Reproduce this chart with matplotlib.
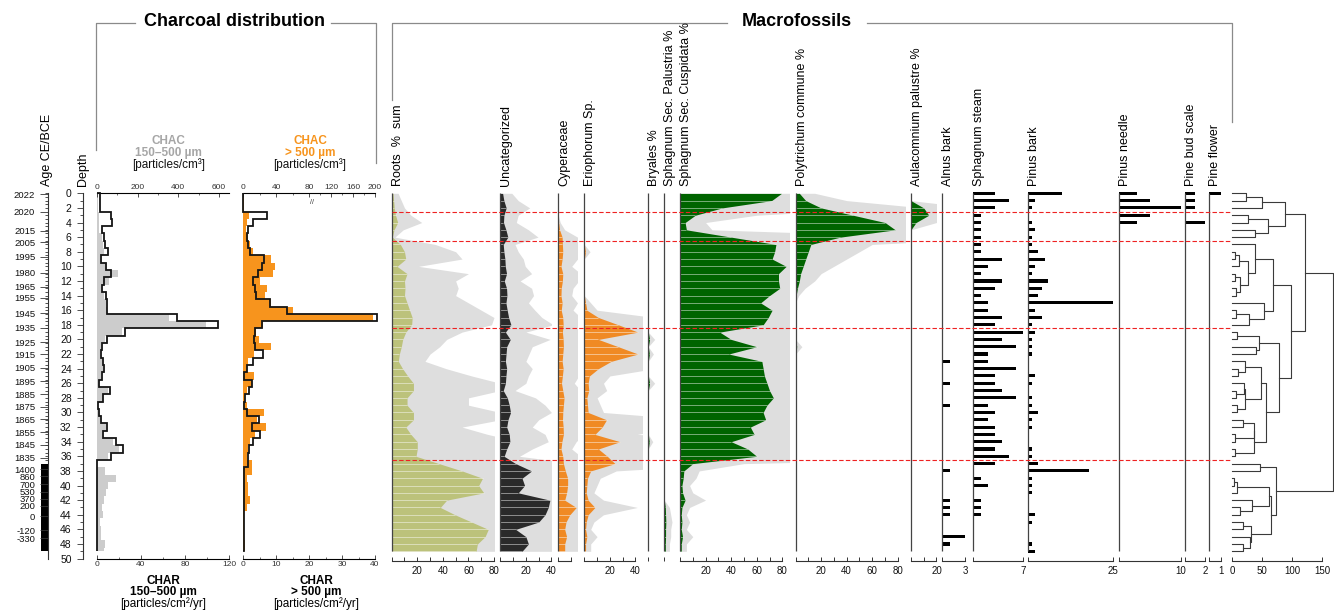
import matplotlib.pyplot as plt
import numpy as np
from matplotlib.lines import Line2D
from matplotlib.transforms import blended_transform_factory

W, H = 1334, 610
Y_TOP, Y_BOT = 193.3, 558.6  # pixel rows of depth 0 cm and 50 cm

plt.rcParams["font.family"] = ["Liberation Sans", "DejaVu Sans"]
plt.rcParams["axes.linewidth"] = 0.8

# ---- core chronology -------------------------------------------------------
depth_cm = np.arange(50)
zone_bounds = [2.5, 6.5, 18.5, 36.5]
age_labels = ["2022", "2020", "2015", "2005", "1995", "1980", "1965", "1955", "1945",
              "1935", "1925", "1915", "1905", "1895", "1885", "1875", "1865", "1855",
              "1845", "1835", "1400", "860", "700", "530", "370", "200", "0", "-120", "-330"]
age_depths = [0.1, 2.5, 5.1, 6.7, 8.7, 10.9, 12.8, 14.3, 16.4, 18.4, 20.4, 22.0, 23.9,
              25.7, 27.5, 29.2, 30.9, 32.7, 34.4, 36.2, 37.8, 38.75, 39.8, 40.85, 41.8,
              42.75, 44.2, 46.1, 47.2]
undated_cm = (37.0, 49.0)

# ---- charcoal --------------------------------------------------------------
chac_150 = [8, 8, 8, 10, 12, 13, 24, 29, 36, 16, 49, 106, 62, 20, 36, 46, 49, 356, 538, 122,
            41, 20, 16, 24, 29, 20, 10, 57, 29, 3, 10, 16, 46, 24, 82, 111, 57, 0, 41, 95,
            57, 46, 36, 24, 29, 16, 20, 20, 41, 36]
char_150 = [3, 3, 3, 12.7, 14, 4.5, 6.6, 7.5, 10, 3.6, 8.4, 13, 6.6, 4.5, 8.4, 9, 9.6, 73, 110,
            25.6, 9, 4.5, 3.6, 5.4, 6.6, 4.5, 2.4, 12, 6, 1, 2.4, 3.6, 9.6, 6, 17.5, 23.5, 12.7,
            0.6, 0.3, 0.3, 0.3, 0.3, 0.3, 0.3, 0.3, 0.3, 0.3, 0.3, 0.3, 0.3]
chac_500 = [1, 1, 1, 7, 4, 3.3, 6, 8, 11.4, 33.5, 38.8, 36, 20.4, 29.4, 26.5, 33.5, 60, 197,
            24.5, 15.5, 19.6, 33.5, 13, 6, 4, 13, 10, 4, 2, 4, 25, 17, 27.8, 14.3, 8, 6, 4, 10,
            10, 4, 6, 6, 8, 4, 1, 1, 1, 1, 2, 2]
char_500 = [0, 0, 0, 7.3, 3, 1.5, 1, 1.5, 2, 6.3, 5.6, 4.6, 2.8, 3.5, 4, 8.1, 13.2, 40.5, 5.6,
            3.5, 3.2, 3.5, 6.1, 2.8, 1, 0.3, 2.5, 1.8, 0.5, 0.3, 1, 4.9, 2.5, 5.1, 3, 1.8, 1.5,
            1.5, 0.1, 0.1, 0.1, 0.1, 0.1, 0.1, 0.1, 0.1, 0.1, 0.1, 0.1, 0.1]

# ---- macrofossils (%) ------------------------------------------------------
roots = [1, 1.5, 2, 3, 4.7, 1.8, 0.5, 6.8, 10, 11, 4.2, 12, 10, 10.4, 10, 12, 14, 16, 15.6, 11,
         8.6, 7.5, 6, 5.2, 8.5, 12.5, 17, 17, 12, 12, 17, 17, 11, 15, 20, 20, 19, 37, 55, 71,
         68, 72, 43, 38, 49.5, 62.5, 75.5, 73, 67, 66]
uncategorized = [1.8, 2.8, 4.6, 2.8, 2.5, 4.4, 5.9, 2.3, 2.8, 3.6, 3.9, 4.9, 3.1, 4.9, 5.2, 4.4,
                 5.4, 6.5, 8.3, 4, 7.8, 5, 4.5, 4, 5, 4.4, 4, 2.3, 5.5, 7, 8, 6, 5, 7, 7.5, 5,
                 3, 12, 24.5, 17, 19, 14, 38.8, 37.5, 35, 30, 12, 20, 22, 17]
cyperaceae = [0, 0, 0, 0, 0.3, 1, 3, 3.2, 3.5, 3, 2.1, 3.5, 3.2, 2.3, 2.1, 3, 2.3, 3.5, 3.8, 3.2,
              3.8, 4, 3.5, 3, 3.8, 3.2, 2.5, 3.5, 4.5, 4, 3.5, 3.3, 3.8, 4, 2.8, 2.1, 3.5, 4, 5.5,
              7.3, 7.3, 6.5, 5, 14, 9, 6, 5, 6.5, 5, 5]
eriophorum = [0, 0, 0, 0, 0, 0, 0, 0, 0.9, 0, 0, 0, 0, 0, 0, 1, 2, 11, 26.6, 42, 11, 26.6, 42,
              21, 11, 4, 3, 3.5, 2, 2.5, 3, 17.4, 14, 8.3, 27.9, 11, 18, 24, 5, 2.5, 2, 1.5, 3,
              8.3, 3, 1.5, 1, 2, 1, 1]
bryales = [0, 0, 0, 0, 0, 0, 0, 0, 0, 0, 0, 0, 0, 0, 0, 0, 0, 0, 0, 0, 1, 0, 0.8, 0, 0, 0, 1,
           0, 0, 0, 0, 0, 0, 0, 0.7, 0, 0, 0, 0, 0, 0, 0, 0, 0, 0, 0, 0, 0, 0, 0]
palustria = [0, 0, 0, 0, 0, 0, 0, 0, 0, 0, 0, 0, 0, 0, 0, 0, 0, 0, 0, 0, 0, 0, 0, 0, 0, 0, 0,
             0, 0, 0, 0, 0, 0, 0, 0, 0, 0, 0, 0, 0, 0, 0, 0, 0.8, 1, 1.2, 1, 1, 0.8, 0.8]
cuspidata = [79.4, 71.6, 33, 12, 4, 5, 40, 75, 74, 72, 83, 77, 77, 78, 70, 63, 72, 69, 65, 31,
             40, 60, 38, 64, 65, 66, 68, 70, 73, 68, 65, 67, 55, 58, 40, 53, 60, 10, 3, 2.5,
             1.5, 2, 4, 1.5, 1, 1.5, 1, 2, 1, 1]
polytrichum = [3, 8, 20, 45, 70, 78, 35, 12, 10, 8, 6, 4, 3, 1.5, 0.5, 0, 0, 0, 0, 0, 0, 1, 0,
               0, 0, 0, 0, 0, 0, 0, 0, 0, 0, 0, 0, 0, 0, 0, 0, 0, 0, 0, 0, 0, 0, 0, 0, 0, 0, 0]
aulacomnium = [0, 0, 10, 14, 4, 0, 0, 0, 0, 0, 0, 0, 0, 0, 0, 0, 0, 0, 0, 0, 0, 0, 0, 0, 0, 0,
               0, 0, 0, 0, 0, 0, 0, 0, 0, 0, 0, 0, 0, 0, 0, 0, 0, 0, 0, 0, 0, 0, 0, 0]

# ---- macrofossils (counts) -------------------------------------------------
alnus_bark = [0, 0, 0, 0, 0, 0, 0, 0, 0, 0, 0, 0, 0, 0, 0, 0, 0, 0, 0, 0, 0, 0, 0, 1, 0, 0, 1,
              0, 0, 1, 0, 0, 0, 0, 0, 0, 0, 0, 1, 0, 0, 0, 1, 1, 1, 0, 0, 3, 1, 0]
sphagnum_steam = [3, 5, 3, 1, 1, 1, 1, 1, 1, 4, 2, 1, 4, 3, 1, 2, 2, 4, 3, 7, 4, 6, 2, 2, 6, 3,
                  3, 4, 6, 2, 3, 2, 3, 3, 4, 3, 5, 3, 0, 1, 2, 0, 1, 1, 1, 0, 0, 0, 0, 0]
pinus_bark = [10, 2, 1, 0, 1, 2, 1, 1, 3, 5, 2, 1, 6, 4, 3, 25, 2, 4, 1, 2, 1, 1, 1, 0, 0, 2, 1,
              0, 1, 1, 3, 1, 1, 0, 0, 1, 1, 3, 18, 1, 1, 1, 0, 0, 2, 1, 0, 0, 1, 2]
pinus_needle = [3, 5, 10, 5, 3, 0, 0, 0, 0, 0, 0, 0, 0, 0, 0, 0, 0, 0, 0, 0, 0, 0, 0, 0, 0, 0, 0,
                0, 0, 0, 0, 0, 0, 0, 0, 0, 0, 0, 0, 0, 0, 0, 0, 0, 0, 0, 0, 0, 0, 0]
pine_bud_scale = [1, 1, 1, 0, 2, 0, 0, 0, 0, 0, 0, 0, 0, 0, 0, 0, 0, 0, 0, 0, 0, 0, 0, 0, 0, 0,
                  0, 0, 0, 0, 0, 0, 0, 0, 0, 0, 0, 0, 0, 0, 0, 0, 0, 0, 0, 0, 0, 0, 0, 0]
pine_flower = [1, 0, 0, 0, 0, 0, 0, 0, 0, 0, 0, 0, 0, 0, 0, 0, 0, 0, 0, 0, 0, 0, 0, 0, 0, 0, 0,
               0, 0, 0, 0, 0, 0, 0, 0, 0, 0, 0, 0, 0, 0, 0, 0, 0, 0, 0, 0, 0, 0, 0]

# ---- CONISS clusters: (first sample, last sample, total sum of squares) ----
coniss_nodes = [
    (0, 1, 23), (0, 2, 50), (3, 4, 27), (5, 6, 38), (3, 6, 60), (0, 6, 89),
    (8, 9, 5), (8, 10, 12), (11, 12, 5), (13, 14, 6), (11, 14, 14), (8, 14, 26), (7, 14, 39),
    (16, 17, 7), (16, 18, 29), (15, 18, 53), (7, 18, 69),
    (19, 20, 8), (21, 22, 40), (19, 22, 45),
    (24, 25, 10), (23, 25, 22), (27, 28, 7), (26, 28, 20), (29, 30, 9), (26, 30, 21), (23, 30, 48),
    (31, 32, 19), (33, 34, 5), (31, 34, 36), (35, 36, 5), (31, 36, 37), (23, 36, 57),
    (19, 36, 79), (7, 36, 98), (0, 36, 121),
    (37, 38, 46), (39, 40, 4), (39, 41, 8), (43, 44, 13), (42, 44, 33), (39, 44, 62),
    (45, 46, 18), (48, 49, 18), (47, 49, 30), (45, 49, 31), (39, 49, 65), (37, 49, 74),
    (0, 49, 169),
]

OLIVE, DARK, ORANGE, GREEN = "#bcc27b", "#2a2a2a", "#f08a24", "#006400"
CHAR_ORANGE, SHADE, AXIS = "#f7941d", "#dedede", "#333333"
EXAG = 5


def rect(x0, x1):
    return [x0 / W, 1 - Y_BOT / H, (x1 - x0) / W, (Y_BOT - Y_TOP) / H]


def fig_line(xs, ys):
    fig.add_artist(Line2D([x / W for x in xs], [1 - y / H for y in ys], color="#8a8a8a",
                          lw=0.9, transform=fig.transFigure))


def fig_label(x, y, text, **kw):
    fig.text(x / W, 1 - y / H, text, **kw)


fig = plt.figure(figsize=(W / 100, H / 100), dpi=100)
depth = depth_cm.astype(float)
edges = np.r_[depth[0], (depth[:-1] + depth[1:]) / 2, depth[-1]]

# ---- age and depth scales --------------------------------------------------
ax_age = fig.add_axes(rect(40.7, 48.3))
ax_dep = fig.add_axes(rect(77.3, 83.3))
for ax in (ax_age, ax_dep):
    ax.set_ylim(50, 0)
    ax.set_xlim(0, 1)
    ax.set_xticks([])
    for s in ("top", "bottom", "left"):
        ax.spines[s].set_visible(False)
    ax.spines["right"].set_color(AXIS)
    ax.tick_params(axis="y", which="both", direction="in", left=False, right=True,
                   labelleft=True, labelright=False, width=0.6, colors=AXIS)
    ax.tick_params(axis="y", which="major", labelsize=7.5, pad=4, labelcolor="#111111")
    ax.patch.set_visible(False)

ax_age.set_yticks(age_depths)
ax_age.set_yticklabels(age_labels)
ax_age.set_yticks(np.arange(0, 37, 0.5), minor=True)
ax_age.tick_params(axis="y", which="major", length=5.5, labelsize=6.8)
ax_age.tick_params(axis="y", which="minor", length=2.5)
ax_age.barh(np.mean(undated_cm), 1, height=undated_cm[1] - undated_cm[0], color="black")

ax_dep.set_yticks(np.arange(0, 51, 2))
ax_dep.set_yticks(np.arange(0, 51, 1), minor=True)
ax_dep.tick_params(axis="y", which="major", length=4.3)
ax_dep.tick_params(axis="y", which="minor", length=2.5)

fig_label(47, 186, "Age CE/BCE", rotation=90, ha="center", va="bottom", fontsize=9)
fig_label(83, 186, "Depth", rotation=90, ha="center", va="bottom", fontsize=9)


# ---- charcoal panels -------------------------------------------------------
def charcoal_panel(x0, x1, char, char_max, char_major, char_minor):
    ax_c = fig.add_axes(rect(x0, x1))
    ax_c.set_ylim(50, 0)
    ax_r = ax_c.twiny()
    ax_r.set_ylim(50, 0)
    ax_r.set_xlim(0, char_max)
    ax_r.stairs(char, edges, orientation="horizontal", baseline=0, color="#151515", lw=1.3,
                clip_on=False)
    ax_c.xaxis.tick_top()
    ax_r.xaxis.tick_bottom()
    for a in (ax_c, ax_r):
        for s in ("left", "right"):
            a.spines[s].set_visible(False)
        a.set_yticks([])
    ax_c.spines["bottom"].set_visible(False)
    ax_r.spines["top"].set_visible(False)
    ax_r.set_xticks(char_major)
    ax_r.set_xticks(char_minor, minor=True)
    for a in (ax_c, ax_r):
        a.tick_params(axis="x", which="major", direction="in", length=3, width=0.6,
                      labelsize=6, pad=2, colors=AXIS)
        a.tick_params(axis="x", which="minor", direction="in", length=1.6, width=0.5,
                      colors=AXIS)
    return ax_c


ax_c1 = charcoal_panel(96.7, 229.3, char_150, 120, [0, 40, 80, 120], [20, 60, 100])
ax_c1.set_xlim(0, 650)
ax_c1.stairs(chac_150, edges, orientation="horizontal", fill=True, color="#cccccc", lw=0)
ax_c1.set_xticks([0, 200, 400, 600])
ax_c1.set_xticks([100, 300, 500], minor=True)
ax_c1.xaxis.set_major_formatter(plt.FixedFormatter(["0", "200", "400", "600"]))

TOP_BREAK = 80


def squeeze(v):
    v = np.asarray(v, dtype=float)
    return np.where(v <= TOP_BREAK, v / 4, TOP_BREAK / 4 + (v - TOP_BREAK) / 6)


def unsqueeze(u):
    u = np.asarray(u, dtype=float)
    return np.where(u <= TOP_BREAK / 4, u * 4, TOP_BREAK + (u - TOP_BREAK / 4) * 6)


ax_c2 = charcoal_panel(243.3, 375, char_500, 40, [0, 10, 20, 30, 40], [5, 15, 25, 35])
ax_c2.set_xscale("function", functions=(squeeze, unsqueeze))
ax_c2.set_xlim(0, 200)
ax_c2.stairs(chac_500, edges, orientation="horizontal", fill=True, color=CHAR_ORANGE, lw=0)
ax_c2.set_xticks([0, 40, 80, 120, 160, 200])
ax_c2.set_xticks([20, 60, 100, 140, 180], minor=True)
ax_c2.xaxis.set_major_formatter(plt.FixedFormatter(["0", "40", "80", "120", "160", "200"]))
ax_c2.xaxis.set_minor_formatter(plt.NullFormatter())
ax_c2.text(TOP_BREAK + 6, 0.985, "//", transform=blended_transform_factory(
    ax_c2.transData, ax_c2.transAxes), fontsize=5, ha="center", va="top", color=AXIS)

for cx, lines in ((168.5, [("CHAC", "#a6a6a6", "bold"), ("150–500 µm", "#a6a6a6", "bold"),
                           ("[particles/cm³]", "#111111", "normal")]),
                  (310, [("CHAC", CHAR_ORANGE, "bold"), ("> 500 µm", CHAR_ORANGE, "bold"),
                         ("[particles/cm³]", "#111111", "normal")])):
    for (txt, col, wt), y in zip(lines, (141.5, 153, 164.5)):
        fig_label(cx, y, txt, color=col, fontweight=wt, ha="center", va="center", fontsize=8.5)

for cx, sub in ((163, "150–500 µm"), (316, "> 500 µm")):
    fig_label(cx, 580.5, "CHAR", fontweight="bold", ha="center", va="center", fontsize=8.5)
    fig_label(cx, 592, sub, fontweight="bold", ha="center", va="center", fontsize=8.5)
    fig_label(cx, 603.5, "[particles/cm²/yr]", ha="center", va="center", fontsize=8.5)

# ---- macrofossil panels ----------------------------------------------------
PCT_PX = 1.279  # pixels per percent unit
pct_panels = [
    ("Roots  %  sum", roots, OLIVE, 391.7, 80, 80, (20, 40, 60, 80)),
    ("Uncategorized", uncategorized, DARK, 500.3, 40, 40, (20, 40)),
    ("Cyperaceae", cyperaceae, ORANGE, 558.3, 15, 10, ()),
    ("Eriophorum Sp.", eriophorum, ORANGE, 584.3, 45, 40, (20, 40)),
    ("Bryales %", bryales, GREEN, 648.3, 10, 0, ()),
    ("Sphagnum Sec. Palustria %", palustria, GREEN, 664.3, 10, 0, ()),
    ("Sphagnum Sec. Cuspidata %", cuspidata, GREEN, 680.0, 85, 80, (20, 40, 60, 80)),
    ("Polytrichum commune %", polytrichum, GREEN, 795.5, 86, 80, (20, 40, 60, 80)),
    ("Aulacomnium palustre %", aulacomnium, GREEN, 910.9, 20, 20, (20,)),
]
count_panels = [
    ("Alnus bark", alnus_bark, 941.7, 965.2, 3),
    ("Sphagnum steam", sphagnum_steam, 973.4, 1023.1, 7),
    ("Pinus bark", pinus_bark, 1028.2, 1112.7, 25),
    ("Pinus needle", pinus_needle, 1118.5, 1180.8, 10),
    ("Pine bud scale", pine_bud_scale, 1184.9, 1205.3, 2),
    ("Pine flower", pine_flower, 1208.7, 1220.6, 1),
]


def style_bottom(ax, ticks, labels, last):
    for s in ("top", "left", "right"):
        ax.spines[s].set_visible(False)
    ax.spines["bottom"].set_position(("outward", 2))
    ax.spines["bottom"].set_bounds(0, last)
    ax.spines["bottom"].set_color(AXIS)
    ax.set_yticks([])
    ax.set_xticks(ticks)
    ax.set_xticklabels(labels)
    ax.tick_params(axis="x", direction="in", length=3.2, width=0.7, labelsize=7, pad=3.5,
                   colors=AXIS)
    ax.tick_params(axis="x", labelcolor="#111111")
    ax.patch.set_visible(False)


for label, vals, colour, x0, xmax, last, shown in pct_panels:
    vals = np.asarray(vals, dtype=float)
    ax = fig.add_axes(rect(x0, x0 + xmax * PCT_PX))
    ax.set_ylim(50, 0)
    ax.set_xlim(0, xmax)
    ax.fill_betweenx(depth, 0, vals * EXAG, color=SHADE, lw=0, zorder=1)
    ax.fill_betweenx(depth, 0, vals, color=colour, lw=0, zorder=2)
    hit = vals > 0
    ax.hlines(depth[hit], 0, vals[hit], colors="white", lw=0.6, alpha=0.55, zorder=3)
    ax.vlines(0, depth[0], depth[-1], colors="#444444", lw=0.9, zorder=4, clip_on=False)
    ticks = list(range(0, last + 1, 10))
    style_bottom(ax, ticks, [str(t) if t in shown else "" for t in ticks], last)
    fig_label(x0, 186, label, rotation=90, ha="left", va="bottom", fontsize=9)

for label, vals, x0, x1, top in count_panels:
    ax = fig.add_axes(rect(x0, x1))
    ax.set_ylim(50, 0)
    ax.set_xlim(0, top)
    ax.barh(depth, vals, height=0.42, color="black", zorder=2, clip_on=False)
    ax.vlines(0, depth[0], depth[-1], colors="#444444", lw=0.9, zorder=3, clip_on=False)
    style_bottom(ax, [0, top], ["", str(top)], top)
    fig_label(x0, 186, label, rotation=90, ha="left", va="bottom", fontsize=9)

# ---- zone boundaries -------------------------------------------------------
ax_z = fig.add_axes(rect(391.7, 1231))
ax_z.set_axis_off()
ax_z.set_ylim(50, 0)
ax_z.set_xlim(0, 1)
ax_z.hlines(zone_bounds, 0, 1, colors="#ee2222", linestyles=(0, (4, 2)), lw=0.8)

# ---- CONISS dendrogram -----------------------------------------------------
ax_d = fig.add_axes(rect(1232, 1334))
ax_d.set_ylim(50, 0)
ax_d.set_xlim(0, 170)
placed = {(i, i): (depth[i], 0.0) for i in range(len(depth))}
for first, last, height in sorted(coniss_nodes, key=lambda n: n[2]):
    split = max(k[1] for k in placed if k[0] == first and k[1] < last)
    (yl, xl), (yr, xr) = placed[(first, split)], placed[(split + 1, last)]
    ax_d.plot([xl, height, height, xr], [yl, yl, yr, yr], color="#3a3a3a", lw=0.8,
              clip_on=False)
    placed[(first, last)] = ((yl + yr) / 2, height)
style_bottom(ax_d, [0, 50, 100, 150], ["0", "50", "100", "150"], 150)

# ---- headers ---------------------------------------------------------------
fig_label(234.5, 22, "Charcoal distribution", fontsize=13, fontweight="bold",
          ha="center", va="center")
fig_label(797, 22, "Macrofossils", fontsize=13, fontweight="bold", ha="center", va="center")
fig_line([95.7, 95.7, 135], [150, 23.3, 23.3])
fig_line([331, 376, 376], [23.3, 23.3, 163])
fig_line([391.7, 391.7, 727], [100, 23.3, 23.3])
fig_line([867, 1231.7, 1231.7], [23.3, 23.3, 121.7])

fig.savefig("out.png", dpi=100)
